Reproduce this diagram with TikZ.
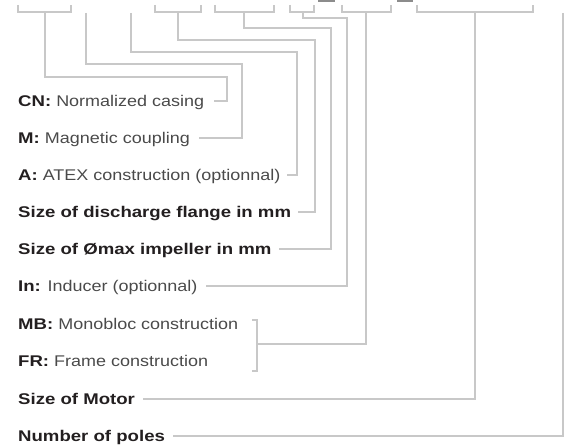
\documentclass[tikz,border=0pt]{standalone}
\usepackage{fontspec}
\setmainfont{Liberation Sans}[FakeStretch=1.16,BoldFeatures={FakeStretch=1.2}]
\definecolor{lncol}{HTML}{C8C8C8}
\definecolor{normcol}{HTML}{4A4A4A}
\definecolor{boldcol}{HTML}{231F20}
\definecolor{markcol}{HTML}{8C8C8C}
\newcommand{\bt}[1]{\textcolor{boldcol}{\textbf{#1}}}
\tikzset{
  ln/.style={draw=lncol, line width=1.1pt},
  lab/.style={anchor=west, inner sep=0pt, text height=11.1pt, text depth=0pt,
    font=\fontsize{15.5}{18}\selectfont, text=normcol},
  topmark/.style={fill=markcol, draw=none},
}
\begin{document}
\begin{tikzpicture}[x=1pt,y=-1pt]
\useasboundingbox (0,0) rectangle (576,446);

% labels
\node[lab] (cn) at (18,101) {\bt{CN:} Normalized casing};
\node[lab] (m)  at (18,138) {\bt{M:} Magnetic coupling};
\node[lab] (a)  at (18,175) {\bt{A:} ATEX construction (optionnal)};
\node[lab] (df) at (18,212) {\bt{Size of discharge flange in mm}};
\node[lab] (im) at (18,249) {\bt{Size of Ømax impeller in mm}};
\node[lab] (in) at (18,286) {\bt{In:} Inducer (optionnal)};
\node[lab] (mb) at (18,324) {\bt{MB:} Monobloc construction};
\node[lab] (fr) at (18,361) {\bt{FR:} Frame construction};
\node[lab] (mo) at (18,399) {\bt{Size of Motor}};
\node[lab] (np) at (18,436) {\bt{Number of poles}};

% top marks
\fill[topmark] (318,0) rectangle (335,2.5);
\fill[topmark] (397,0) rectangle (413,2.5);

% bracket coordinates
\coordinate (b1a) at (18,5);  \coordinate (b1b) at (71,5);  \coordinate (s1) at (45,12);
\coordinate (s2) at (86,13);
\coordinate (s3) at (131,13);
\coordinate (b4a) at (155,5); \coordinate (b4b) at (201,5); \coordinate (s4) at (178,12);
\coordinate (b5a) at (215,5); \coordinate (b5b) at (274,5); \coordinate (s5) at (244,12);
\coordinate (b6a) at (290,5); \coordinate (b6b) at (314,5); \coordinate (s6) at (303,12);
\coordinate (b7a) at (342,5); \coordinate (b7b) at (391,5); \coordinate (s7) at (366,12);
\coordinate (b8a) at (417,5); \coordinate (b8b) at (533,5); \coordinate (s8) at (475,12);
\coordinate (s9) at (563,13);

% elbows
\coordinate (k1) at (227,77);
\coordinate (k2) at (242,64);
\coordinate (k3) at (297,52);
\coordinate (k4) at (315,40);
\coordinate (k5) at (331,28);
\coordinate (k6) at (347,18);
\coordinate (mbt) at (252,320);
\coordinate (j)   at (257,344);
\coordinate (frb) at (252,371);

% brackets
\foreach \b/\s in {b1/s1,b4/s4,b5/s5,b6/s6,b7/s7,b8/s8}
  \draw[ln] (\b a) |- (\s) -| (\b b);

% connectors
\draw[ln] (s1) |- (k1) |- ([xshift=10pt]cn.east);
\draw[ln] (s2) |- (k2) |- ([xshift=9pt]m.east);
\draw[ln] (s3) |- (k3) |- ([xshift=6pt]a.east);
\draw[ln] (s4) |- (k4) |- ([xshift=7pt]df.east);
\draw[ln] (s5) |- (k5) |- ([xshift=7pt]im.east);
\draw[ln] (s6) |- (k6) |- ([xshift=8pt]in.east);
\draw[ln] (mbt) -| (j) |- (frb);
\draw[ln] (s7) |- (j);
\draw[ln] (s8) |- ([xshift=8pt]mo.east);
\draw[ln] (s9) |- ([xshift=8pt]np.east);
\end{tikzpicture}
\end{document}
